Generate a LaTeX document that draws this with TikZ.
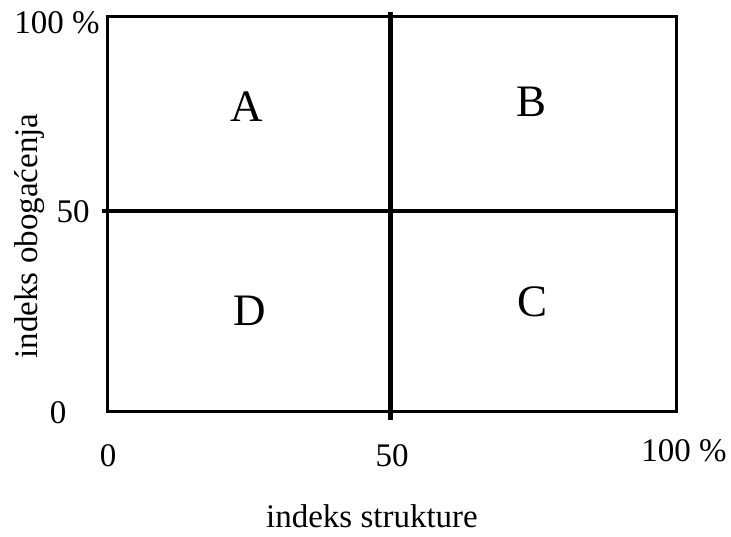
\documentclass[tikz,border=0pt]{standalone}
\usepackage{fontspec}
\setmainfont{Liberation Serif}
\begin{document}
\begin{tikzpicture}[x=1pt,y=-1pt,
  axislbl/.style={inner sep=0pt,font=\fontsize{33}{38}\selectfont},
  quad/.style={inner sep=0pt,font=\fontsize{45}{50}\selectfont},
  frame/.style={line width=3pt},
  divider/.style={line width=4.5pt}]
\useasboundingbox (0,0) rectangle (731,536);
\coordinate (tl) at (107.5,16.5);
\coordinate (br) at (676.5,411.5);
\draw[frame] (tl) rectangle (br);
\coordinate (vt) at (390.5,12);
\coordinate (vb) at (390.5,420);
\coordinate (hl) at (102,211);
\coordinate (hr) at (678,211);
\draw[divider] (vt) -- (vb);
\draw[divider] (hl) -- (hr);
\node[quad] (A) at (247,107) {A};
\node[quad] (B) at (532,102) {B};
\node[quad] (C) at (533,302) {C};
\node[quad] (D) at (250,311) {D};
\node[axislbl] (y100) at (57,23) {100 \%};
\node[axislbl] (y50) at (73,212) {50};
\node[axislbl] (y0) at (58,413) {0};
\node[axislbl] (x0) at (108,456) {0};
\node[axislbl] (x50) at (392,456) {50};
\node[axislbl] (x100) at (684,451) {100 \%};
\node[axislbl] (xt) at (372,516) {indeks strukture};
\node[axislbl,rotate=90] (yt) at (30,236) {indeks obogaćenja};
\end{tikzpicture}
\end{document}
